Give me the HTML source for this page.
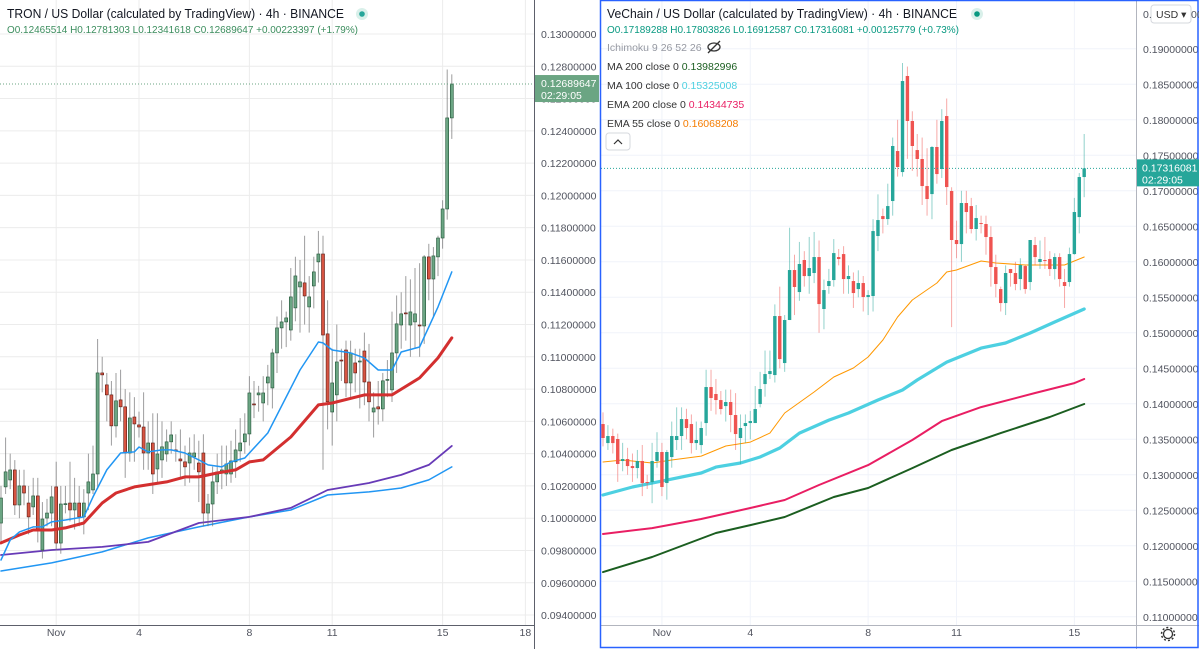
<!DOCTYPE html>
<html><head><meta charset="utf-8">
<style>
html,body{margin:0;padding:0;background:#fff;width:1199px;height:649px;overflow:hidden}
svg{display:block;font-family:"Liberation Sans",sans-serif}
</style></head>
<body>
<svg id="chart" width="1199" height="649" viewBox="0 0 1199 649" xmlns="http://www.w3.org/2000/svg">
<rect x="0" y="0" width="1199" height="649" fill="#fff"/>
<g id="leftGrid"></g>
<g id="rightGrid"></g>
<defs>
<clipPath id="clipL"><rect x="0" y="0" width="534" height="625"/></clipPath>
<clipPath id="clipR"><rect x="601" y="0" width="535" height="625"/></clipPath>
</defs>
<g id="leftPlot" clip-path="url(#clipL)"></g>
<g id="rightPlot" clip-path="url(#clipR)"></g>
<g id="axes"></g>

<!-- headers -->
<text x="7" y="18" font-size="13" fill="#131722" textLength="337" lengthAdjust="spacingAndGlyphs">TRON / US Dollar (calculated by TradingView) · 4h · BINANCE</text>
<circle cx="362" cy="14" r="6" fill="#d9f0ea"/>
<circle cx="362" cy="14" r="2.8" fill="#26a69a"/>
<text x="7" y="33" font-size="10.5" fill="#3b8d5d" textLength="351" lengthAdjust="spacingAndGlyphs">O0.12465514  H0.12781303  L0.12341618  C0.12689647  +0.00223397 (+1.79%)</text>

<text x="607" y="18" font-size="13" fill="#131722" textLength="350" lengthAdjust="spacingAndGlyphs">VeChain / US Dollar (calculated by TradingView) · 4h · BINANCE</text>
<circle cx="977" cy="14" r="6" fill="#d9f0ea"/>
<circle cx="977" cy="14" r="2.8" fill="#089981"/>
<text x="607" y="33" font-size="10.5" fill="#089981" textLength="352" lengthAdjust="spacingAndGlyphs">O0.17189288  H0.17803826  L0.16912587  C0.17316081  +0.00125779 (+0.73%)</text>
<g font-size="10.5">
<text x="607" y="51" fill="#9598a1">Ichimoku 9 26 52 26</text>
<g><ellipse cx="714" cy="47" rx="6" ry="4" fill="none" stroke="#333" stroke-width="1.3"/><line x1="708" y1="53" x2="720" y2="41" stroke="#333" stroke-width="1.3"/></g>
<text x="607" y="70" fill="#333">MA 200 close 0 <tspan fill="#1b5e20">0.13982996</tspan></text>
<text x="607" y="89" fill="#333">MA 100 close 0 <tspan fill="#4dd0e1">0.15325008</tspan></text>
<text x="607" y="108" fill="#333">EMA 200 close 0 <tspan fill="#e91e63">0.14344735</tspan></text>
<text x="607" y="127" fill="#333">EMA 55 close 0 <tspan fill="#f57c00">0.16068208</tspan></text>
</g>
<g><rect x="606" y="133" width="24" height="17" rx="3" fill="#fff" stroke="#d6d8de"/><path d="M614 144 L618 140 L622 144" fill="none" stroke="#333" stroke-width="1.2"/></g>
<g><rect x="1151" y="5" width="40" height="18" rx="3" fill="#fff" stroke="#d6d8de"/><text x="1156" y="18" font-size="10.5" fill="#333">USD ▾</text></g>
<text x="1143" y="18" font-size="10.5" fill="#50535e">0.</text>
<text x="1191" y="18" font-size="10.5" fill="#50535e">00</text>
<g><circle cx="1168" cy="634" r="4.5" fill="none" stroke="#333" stroke-width="1.3"/><circle cx="1168" cy="634" r="6.5" fill="none" stroke="#333" stroke-width="1.5" stroke-dasharray="2 2.1"/></g>
</svg>
<script>
// ===== TRON data (4h candles) =====
const tronOpen=[.09970,.10194,.10237,.10299,.10082,.10200,.10094,.10070,.10138,.09803,.10001,.10032,.10194,.09846,.10088,.10094,.10051,.10094,.10008,.10156,.10175,.10274,.10900,.10826,.10764,.10572,.10733,.10690,.10404,.10627,.10578,.10565,.10404,.10466,.10305,.10361,.10398,.10473,.10423,.10367,.10349,.10342,.10380,.10342,.10404,.10032,.10088,.10225,.10287,.10274,.10274,.10349,.10417,.10473,.10522,.10708,.10764,.10714,.10838,.10807,.11024,.11179,.11216,.11166,.11303,.11433,.11458,.11309,.11439,.11588,.11637,.11142,.10658,.10764,.10980,.11042,.10838,.10962,.10968,.11036,.10844,.10658,.10690,.10677,.10857,.10795,.11024,.11197,.11272,.11197,.11216,.11197,.11191,.11619,.11482,.11619,.11736,.11916,.12480];
const tronClose=[.10125,.10287,.10299,.10082,.10200,.10156,.10008,.10138,.09927,.09995,.10032,.10132,.09846,.10088,.10090,.10051,.10094,.10008,.10094,.10225,.10274,.10900,.10888,.10764,.10572,.10727,.10690,.10404,.10621,.10584,.10565,.10404,.10466,.10274,.10398,.10442,.10473,.10516,.10420,.10355,.10318,.10404,.10404,.10287,.10032,.10088,.10225,.10287,.10299,.10336,.10355,.10423,.10466,.10522,.10776,.10702,.10776,.10776,.10875,.11024,.11179,.11216,.11241,.11371,.11501,.11464,.11377,.11371,.11526,.11637,.11135,.10721,.10838,.10968,.10975,.10838,.11024,.10900,.10974,.10844,.10721,.10683,.10677,.10851,.10860,.11024,.11204,.11266,.11268,.11278,.11266,.11195,.11619,.11482,.11625,.11736,.11916,.12480,.12690];
const tronHigh=[.1020,.1050,.1040,.1036,.1030,.1030,.1020,.1025,.1025,.1010,.1012,.1020,.1035,.1020,.1020,.1035,.1025,.1020,.1018,.1040,.1045,.1111,.1100,.1090,.1085,.1090,.1092,.1080,.1078,.1075,.1066,.1078,.1060,.1065,.1065,.1060,.1055,.1060,.1052,.1055,.1045,.1050,.1052,.1048,.1052,.1015,.1032,.1040,.1045,.1045,.1048,.1055,.1062,.1065,.1088,.1085,.1082,.1088,.1095,.1105,.1125,.1135,.1128,.1155,.1162,.1160,.1175,.1150,.1162,.1178,.1175,.1135,.1105,.1120,.1105,.1110,.1110,.1105,.1105,.1115,.1108,.1078,.1085,.1090,.1098,.1128,.1138,.1140,.1150,.1148,.1155,.1158,.1163,.1170,.1168,.1175,.1197,.1278,.1275];
const tronLow=[.0985,.1015,.1018,.1002,.1000,.1008,.0990,.1002,.0985,.0975,.0995,.0995,.0980,.0978,.1003,.0998,.0993,.0995,.0990,.1005,.1015,.1018,.1078,.1060,.1045,.1050,.1060,.1025,.1035,.1035,.1050,.1030,.1030,.1015,.1022,.1025,.1035,.1040,.1035,.1025,.1020,.1022,.1030,.1010,.0995,.0995,.0995,.1015,.1018,.1020,.1022,.1025,.1035,.1040,.1045,.1062,.1066,.1060,.1070,.1068,.1090,.1105,.1106,.1110,.1122,.1115,.1120,.1115,.1130,.1146,.1030,.1055,.1045,.1060,.1085,.1075,.1075,.1078,.1068,.1070,.1060,.1050,.1058,.1060,.1075,.1072,.1090,.1105,.1110,.1100,.1105,.1100,.1108,.1135,.1125,.1150,.1167,.1185,.1235];
// moving averages: candle index + value
const tronFastIdx=[0,2,4,7,9,11,14,18,20,23,26,29,30,32,35,37,40,43,45,48,50,53,58,65,69,70,72,76,79,82,85,87,91,95,98];
const tronFastVal=[.09741,.09865,.09915,.09946,.09946,.09977,.09989,.10008,.10132,.10299,.10404,.10411,.10441,.10411,.10423,.10423,.10404,.10361,.10330,.10318,.10349,.10373,.10528,.10918,.11092,.11086,.11042,.11024,.10993,.10918,.10918,.11030,.11061,.11309,.11526];
const tronEmaIdx=[0,4,7,11,14,18,22,25,29,33,36,40,43,47,51,54,57,63,69,72,79,85,91,95,98];
const tronEmaVal=[.09847,.09896,.09927,.09927,.09940,.09970,.10094,.10156,.10194,.10212,.10225,.10256,.10256,.10280,.10299,.10349,.10361,.10503,.10702,.10714,.10764,.10764,.10869,.10993,.11117];
const tronPurpleIdx=[0,11,22,32,43,54,63,71,80,87,93,98];
const tronPurpleVal=[.09772,.09803,.09822,.09853,.09970,.10008,.10064,.10175,.10218,.10268,.10330,.10448];
const tronSlowIdx=[0,11,22,32,43,54,63,71,80,87,93,98];
const tronSlowVal=[.09673,.09723,.09791,.09878,.09946,.10008,.10051,.10144,.10163,.10187,.10237,.10318];
const tronTicks=[.130,.128,.126,.124,.122,.120,.118,.116,.114,.112,.110,.108,.106,.104,.102,.100,.098,.096,.094];
const tronDays=["Nov","4","8","11","15","18"];
const tronDayIdx=[12,30,54,72,96,114];

// ===== VeChain data =====
const vetOpen=[.13715,.13447,.13546,.13504,.13194,.13222,.13123,.13095,.13194,.12898,.12898,.13194,.13321,.12884,.13250,.13490,.13546,.13785,.13715,.13447,.13419,.13729,.14236,.14138,.14053,.13968,.14025,.13842,.13518,.13687,.13729,.13729,.13997,.14278,.14419,.14405,.15236,.14574,.15180,.15884,.15574,.16025,.15799,.15842,.16067,.15335,.15659,.15743,.16067,.16109,.15757,.15729,.15616,.15701,.15504,.15518,.16363,.16644,.16602,.16856,.17560,.17264,.18617,.17983,.17574,.17448,.17067,.16954,.17617,.17307,.18053,.16997,.16307,.16250,.16828,.16785,.16462,.16546,.16532,.16349,.15926,.15616,.15419,.15898,.15842,.15757,.15940,.15715,.16236,.15997,.16025,.16039,.15898,.16067,.15715,.15715,.16109,.16630,.17194];
const vetClose=[.13518,.13546,.13447,.13152,.13222,.13123,.13095,.13194,.12884,.12893,.13194,.13321,.12828,.13321,.13546,.13546,.13785,.13659,.13447,.13490,.13659,.14236,.14081,.14053,.13926,.14025,.13842,.13574,.13659,.13729,.13757,.13926,.14208,.14419,.14461,.15236,.14630,.15180,.15884,.15645,.15969,.15799,.15912,.16067,.15405,.15602,.15729,.16123,.16039,.15757,.15800,.15560,.15701,.15504,.15532,.16433,.16588,.16602,.16785,.17631,.17335,.18546,.17983,.17631,.17448,.17067,.16884,.17617,.17236,.17983,.17053,.16307,.16250,.16828,.16701,.16462,.16616,.16532,.16349,.15926,.15687,.15419,.15842,.15842,.15687,.15954,.15616,.16307,.16067,.16039,.16020,.15898,.16067,.15757,.15659,.16109,.16701,.17194,.17316];
const vetHigh=[.1388,.1370,.1365,.1358,.1345,.1338,.1330,.1335,.1342,.1300,.1345,.1360,.1345,.1335,.1375,.1395,.1395,.1393,.1385,.1375,.1375,.1448,.1448,.1435,.1418,.1420,.1420,.1415,.1385,.1385,.1390,.1425,.1445,.1475,.1475,.1540,.1565,.1525,.1648,.1610,.1628,.1615,.1635,.1642,.1630,.1575,.1590,.1632,.1618,.1622,.1595,.1585,.1588,.1580,.1560,.1660,.1695,.1675,.1710,.1775,.1800,.1880,.1875,.1812,.1780,.1775,.1760,.1763,.1800,.1815,.1830,.1705,.1658,.1700,.1700,.1690,.1680,.1665,.1665,.1650,.1610,.1565,.1595,.1590,.1600,.1605,.1595,.1630,.1635,.1630,.1635,.1615,.1612,.1612,.1590,.1620,.1690,.1725,.1780];
const vetLow=[.1340,.1335,.1330,.1290,.1305,.1300,.1290,.1295,.1270,.1280,.1260,.1310,.1270,.1265,.1310,.1335,.1335,.1350,.1330,.1335,.1330,.1355,.1390,.1385,.1385,.1375,.1360,.1335,.1315,.1345,.1350,.1385,.1395,.1410,.1435,.1430,.1450,.1445,.1550,.1525,.1545,.1565,.1555,.1570,.1500,.1505,.1555,.1565,.1595,.1555,.1555,.1535,.1550,.1530,.1525,.1530,.1615,.1640,.1652,.1665,.1720,.1720,.1745,.1728,.1720,.1680,.1665,.1660,.1710,.1718,.1680,.1508,.1605,.1600,.1640,.1640,.1630,.1640,.1610,.1565,.1550,.1530,.1525,.1565,.1560,.1560,.1555,.1560,.1595,.1590,.1590,.1580,.1575,.1565,.1535,.1565,.1610,.1640,.1691];
const vetEma55Idx=[0,4,10,14,20,25,30,34,37,43,47,51,54,57,60,63,68,70,72,77,80,86,94,98];
const vetEma55Val=[.13180,.13208,.13166,.13208,.13264,.13405,.13461,.13588,.13870,.14166,.14377,.14504,.14659,.14898,.15222,.15462,.15701,.15856,.15884,.16011,.15983,.15955,.15955,.16067];
const vetMa100Idx=[0,6,13,20,23,28,32,36,40,46,50,56,61,64,70,77,82,87,92,98];
const vetMa100Val=[.12715,.12828,.12926,.13025,.13109,.13166,.13250,.13377,.13588,.13771,.13870,.14053,.14194,.14335,.14588,.14785,.14856,.14997,.15152,.15335];
const vetEma200Idx=[0,10,20,30,37,44,54,63,69,77,88,96,98];
const vetEma200Val=[.12166,.12250,.12377,.12532,.12645,.12856,.13137,.13490,.13757,.13954,.14152,.14292,.14349];
const vetMa200Idx=[0,10,23,30,37,47,54,63,71,81,91,98];
const vetMa200Val=[.11630,.11842,.12180,.12292,.12405,.12687,.12814,.13095,.13349,.13588,.13814,.13997];
const vetTicks=[.190,.185,.180,.175,.170,.165,.160,.155,.150,.145,.140,.135,.130,.125,.120,.115,.110];
const vetDays=["Nov","4","8","11","15"];
const vetDayIdx=[12,30,54,72,96];

const NS="http://www.w3.org/2000/svg";
function mk(tag,attrs,parent){const e=document.createElementNS(NS,tag);for(const k in attrs)e.setAttribute(k,attrs[k]);parent.appendChild(e);return e;}

const L={x:i=>1+4.6*i, y:p=>34+(0.130-p)*16140, bw:3};
const R={x:i=>603+4.91*i, y:p=>48.8+(0.19-p)*7100, bw:3.4};

const axes=document.getElementById('axes');
const lg=document.getElementById('leftGrid'), rg=document.getElementById('rightGrid');
tronTicks.forEach(t=>{const y=L.y(t);const g=mk('line',{x1:0,x2:534,y1:y,y2:y,stroke:'#ececec','stroke-width':1},lg);


const tx=mk('text',{x:541,y:y+4,'font-size':10.5,fill:'#50535e'},axes);tx.textContent=t.toFixed(8);

});
tronDayIdx.forEach((d,k)=>{const x=L.x(d);mk('line',{x1:x,x2:x,y1:0,y2:625,stroke:'#ececec'},lg);
const tx=mk('text',{x:x,y:636,'font-size':10.5,fill:'#50535e','text-anchor':'middle'},axes);tx.textContent=tronDays[k];

});
vetTicks.forEach(t=>{const y=R.y(t);mk('line',{x1:601,x2:1136,y1:y,y2:y,stroke:'#f0f3fa'},rg);
const tx=mk('text',{x:1143,y:y+4,'font-size':10.5,fill:'#50535e'},axes);tx.textContent=t.toFixed(8);

});
vetDayIdx.forEach((d,k)=>{const x=R.x(d);mk('line',{x1:x,x2:x,y1:0,y2:625,stroke:'#f0f3fa'},rg);
const tx=mk('text',{x:x,y:636,'font-size':10.5,fill:'#50535e','text-anchor':'middle'},axes);tx.textContent=vetDays[k];

});

function candles(g,S,O,C,H,Lo,up,dn,upB,dnB,wickUp,wickDn,wop){
  const n=Math.min(O.length,C.length,H.length,Lo.length);
  for(let i=0;i<n;i++){
    const x=S.x(i), o=O[i], c=C[i], isUp=c>=o;
    const hi=Math.max(H[i],o,c), lo=Math.min(Lo[i],o,c);
    const w=mk('line',{x1:x,x2:x,y1:S.y(hi),y2:S.y(lo),stroke:isUp?wickUp:wickDn,'stroke-width':1,'stroke-opacity':wop},g);
    
    
    const yt=S.y(Math.max(o,c)), yb=S.y(Math.min(o,c));
    const b=mk('rect',{x:x-S.bw/2,y:yt,width:S.bw,height:Math.max(1,yb-yt),fill:isUp?up:dn,stroke:isUp?upB:dnB,'stroke-width':upB?0.6:0},g);
    
    
  }
}
function line(g,S,idx,val,color,w,name){
  const pts=idx.map((d,k)=>S.x(d).toFixed(1)+','+S.y(val[k]).toFixed(1)).join(' ');
  const p=mk('polyline',{points:pts,fill:'none',stroke:color,'stroke-width':w,'stroke-linejoin':'round','stroke-linecap':'round'},g);
  
  
}
const lp=document.getElementById('leftPlot'), rp=document.getElementById('rightPlot');
line(lp,L,tronSlowIdx,tronSlowVal,'#2196f3',1.5,'ma200-line');
line(lp,L,tronPurpleIdx,tronPurpleVal,'#673ab7',1.8,'ma100-line');
candles(lp,L,tronOpen,tronClose,tronHigh,tronLow,'#6ba583','#d75442','#225437','#5b1a13','#737375','#737375',0.7);
line(lp,L,tronEmaIdx,tronEmaVal,'#d32f2f',3,'ema55-line');
line(lp,L,tronFastIdx,tronFastVal,'#2196f3',1.5,'ema20-line');
const ly=L.y(tronClose[tronClose.length-1]);
mk('line',{x1:0,x2:534,y1:ly,y2:ly,stroke:'#6ba583','stroke-dasharray':'1 2','stroke-width':1},lp);

line(rp,R,vetMa200Idx,vetMa200Val,'#1b5e20',2,'ma200-line');
line(rp,R,vetEma200Idx,vetEma200Val,'#e91e63',2,'ema200-line');
line(rp,R,vetMa100Idx,vetMa100Val,'#4dd0e1',3.2,'ma100-line');
line(rp,R,vetEma55Idx,vetEma55Val,'#ff9800',1,'ema55-line');
candles(rp,R,vetOpen,vetClose,vetHigh,vetLow,'#26a69a','#ef5350','','','#26a69a','#ef5350',0.5);
const ry=R.y(vetClose[vetClose.length-1]);
mk('line',{x1:601,x2:1136,y1:ry,y2:ry,stroke:'#26a69a','stroke-dasharray':'1 2','stroke-width':1},rp);

mk('line',{x1:534.5,x2:534.5,y1:0,y2:649,stroke:'#5d606b'},axes);
mk('line',{x1:0,x2:534,y1:625.5,y2:625.5,stroke:'#5d606b'},axes);
mk('line',{x1:1136.5,x2:1136.5,y1:0,y2:649,stroke:'#b2b5be'},axes);
mk('line',{x1:601,x2:1199,y1:625.5,y2:625.5,stroke:'#b2b5be'},axes);
const fr=mk('rect',{x:600.5,y:0.5,width:597.5,height:647,fill:'none',stroke:'#2962ff','stroke-width':1.5},axes);


const lb=mk('g',{},axes);


mk('rect',{x:535,y:ly-9,width:64,height:27,fill:'#6ba583'},lb);
let t=mk('text',{x:541,y:ly+3,'font-size':10.5,fill:'#fff'},lb);t.textContent='0.12689647';
t=mk('text',{x:541,y:ly+15,'font-size':10.5,fill:'#fff'},lb);t.textContent='02:29:05';
const rb=mk('g',{},axes);


mk('rect',{x:1137,y:ry-9,width:62,height:27,fill:'#26a69a'},rb);
t=mk('text',{x:1142,y:ry+3,'font-size':10.5,fill:'#fff'},rb);t.textContent='0.17316081';
t=mk('text',{x:1142,y:ry+15,'font-size':10.5,fill:'#fff'},rb);t.textContent='02:29:05';
</script>
</body></html>
